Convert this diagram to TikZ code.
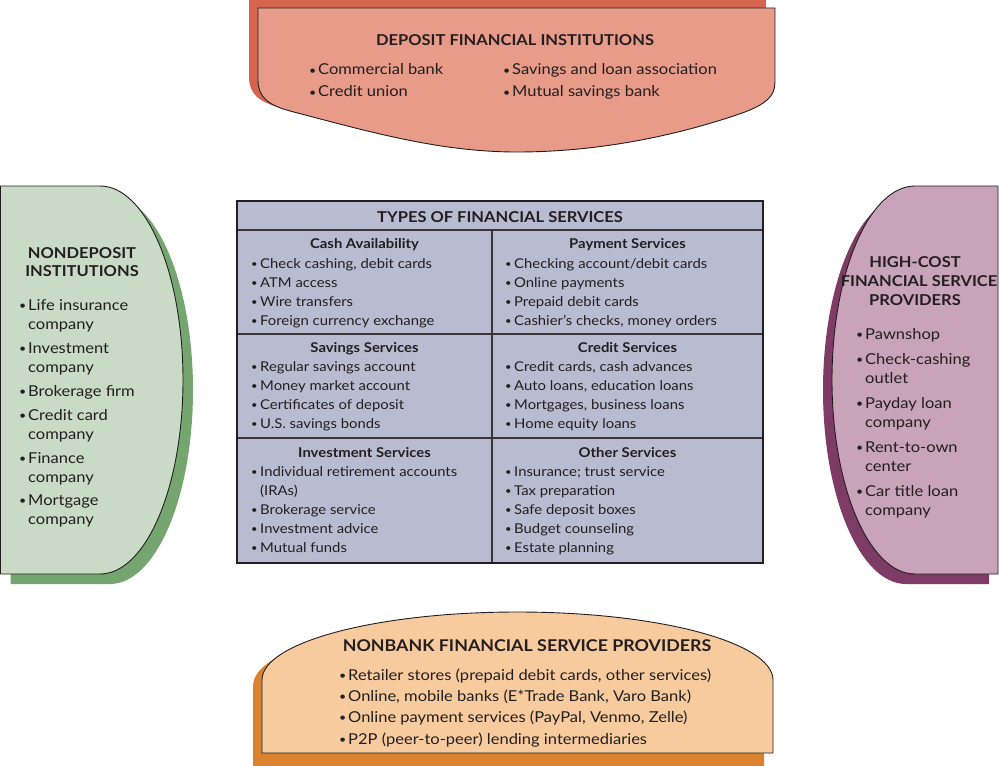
\documentclass[tikz,border=0pt]{standalone}
\usepackage{fontspec}
\setmainfont{Lato}[FakeStretch=1.1]
\definecolor{ink}{HTML}{231F20}
\definecolor{salmon}{HTML}{E79B88}
\definecolor{salmonsh}{HTML}{D5654F}
\definecolor{sage}{HTML}{C9DAC6}
\definecolor{sagesh}{HTML}{76A66F}
\definecolor{mauve}{HTML}{C9A3B9}
\definecolor{mauvesh}{HTML}{7E3B66}
\definecolor{peach}{HTML}{F8CB9F}
\definecolor{peachsh}{HTML}{DA8230}
\definecolor{lav}{HTML}{B9BBD0}
\newcommand\bu{\makebox[9pt][l]{\raisebox{0.1ex}{\scalebox{0.75}{\textbullet}}}}
\newcommand\topshape[1]{\path[#1] (258,8) -- (775,8) -- (775,82) .. controls (775,97) and (765,104) .. (745,112) .. controls (680,135) and (600,152) .. (517,152) .. controls (440,152) and (370,132) .. (290,111) .. controls (268,105) and (258,97) .. (258,80) -- cycle;}
\newcommand\leftshape[1]{\path[#1] (0.5,186) -- (100,186) .. controls (145.8,186) and (183,272.9) .. (183,380) .. controls (183,487.1) and (145.8,574) .. (100,574) -- (0.5,574) -- cycle;}
\newcommand\rightshape[1]{\path[#1] (998,186) -- (915,186) .. controls (869.2,186) and (832,272.9) .. (832,380) .. controls (832,487.1) and (869.2,574) .. (915,574) -- (998,574) -- cycle;}
\newcommand\botshape[2]{\path[#1] (262,#2) -- (262,680) .. controls (262,642.4) and (376.4,612) .. (517.5,612) .. controls (658.6,612) and (773,642.4) .. (773,680) -- (773,#2) -- cycle;}
\begin{document}
\begin{tikzpicture}[x=1pt,y=-1pt,
  outline/.style={draw=ink,line width=0.9pt},
  txt/.style={inner sep=0pt,anchor=base west,text=ink,font=\fontsize{15}{18}\selectfont},
  ttl/.style={inner sep=0pt,anchor=base,text=ink,font=\bfseries\fontsize{15}{18}\selectfont},
  tbl/.style={inner sep=0pt,anchor=base west,text=ink,font=\fontsize{13.5}{16}\selectfont},
  tblh/.style={inner sep=0pt,anchor=base,text=ink,font=\bfseries\fontsize{13.5}{16}\selectfont},
  grid/.style={draw=ink!90,line width=1.4pt}]
\useasboundingbox (0,0) rectangle (1000,765);
% shapes
\fill[salmonsh] (249,0) rectangle (766,60);
\topshape{fill=salmonsh,shift={(-9,-3)}}
\topshape{outline,fill=salmon}
\leftshape{fill=sagesh,shift={(10,10)}}
\leftshape{outline,fill=sage}
\rightshape{fill=mauvesh,shift={(-9,10)}}
\rightshape{outline,fill=mauve}
\botshape{fill=peachsh,shift={(-9,6)}}{760}
\botshape{outline,fill=peach}{753}
% top
\node[ttl] (dtitle) at (515,46) {DEPOSIT FINANCIAL INSTITUTIONS};
\node[txt] (d1) at (309,75) {\bu Commercial bank};
\node[txt] (d2) at (309,97) {\bu Credit union};
\node[txt] (d3) at (503,75) {\bu Savings and loan association};
\node[txt] (d4) at (503,97) {\bu Mutual savings bank};
% left
\node[ttl] (ntitle1) at (82,258) {NONDEPOSIT};
\node[ttl] (ntitle2) at (82,276) {INSTITUTIONS};
\node[txt] (n1) at (19,310) {\bu Life insurance};
\node[txt] (n1b) at (28,329) {company};
\node[txt] (n2) at (19,353) {\bu Investment};
\node[txt] (n2b) at (28,372) {company};
\node[txt] (n3) at (19,396) {\bu Brokerage firm};
\node[txt] (n4) at (19,420) {\bu Credit card};
\node[txt] (n4b) at (28,439) {company};
\node[txt] (n5) at (19,463) {\bu Finance};
\node[txt] (n5b) at (28,482) {company};
\node[txt] (n6) at (19,505) {\bu Mortgage};
\node[txt] (n6b) at (28,524) {company};
% right
\node[ttl] (htitle1) at (915,267) {HIGH-COST};
\node[ttl] (htitle2) at (919,286) {FINANCIAL SERVICE};
\node[ttl] (htitle3) at (915,305) {PROVIDERS};
\node[txt] (h1) at (856,339) {\bu Pawnshop};
\node[txt] (h2) at (856,364) {\bu Check-cashing};
\node[txt] (h2b) at (865,383) {outlet};
\node[txt] (h3) at (856,408) {\bu Payday loan};
\node[txt] (h3b) at (865,427) {company};
\node[txt] (h4) at (856,452) {\bu Rent-to-own};
\node[txt] (h4b) at (865,471) {center};
\node[txt] (h5) at (856,496) {\bu Car title loan};
\node[txt] (h5b) at (865,515) {company};
% bottom
\node[ttl,font=\bfseries\fontsize{16.2}{19}\selectfont] (btitle) at (527,651) {NONBANK FINANCIAL SERVICE PROVIDERS};
\node[txt] (b1) at (339,680) {\bu Retailer stores (prepaid debit cards, other services)};
\node[txt] (b2) at (339,701) {\bu Online, mobile banks (E*Trade Bank, Varo Bank)};
\node[txt] (b3) at (339,722) {\bu Online payment services (PayPal, Venmo, Zelle)};
\node[txt] (b4) at (339,744) {\bu P2P (peer-to-peer) lending intermediaries};
% table
\fill[lav] (237,201) rectangle (763,563);
\draw[grid] (237,230) -- (763,230);
\draw[grid] (237,334) -- (763,334);
\draw[grid] (237,438) -- (763,438);
\draw[grid] (492,230) -- (492,563);
\draw[draw=ink,line width=2.4pt] (237,201) rectangle (763,563);
\node[ttl] (ttitle) at (500,222) {TYPES OF FINANCIAL SERVICES};
\node[tblh] (ca) at (364.5,248) {Cash Availability};
\node[tbl] (ca1) at (251,268) {\bu Check cashing, debit cards};
\node[tbl] (ca2) at (251,287) {\bu ATM access};
\node[tbl] (ca3) at (251,306) {\bu Wire transfers};
\node[tbl] (ca4) at (251,325) {\bu Foreign currency exchange};
\node[tblh] (ss) at (364.5,352) {Savings Services};
\node[tbl] (ss1) at (251,371) {\bu Regular savings account};
\node[tbl] (ss2) at (251,390) {\bu Money market account};
\node[tbl] (ss3) at (251,409) {\bu Certificates of deposit};
\node[tbl] (ss4) at (251,428) {\bu U.S. savings bonds};
\node[tblh] (is) at (364.5,457) {Investment Services};
\node[tbl] (is1) at (251,476) {\bu Individual retirement accounts};
\node[tbl] (is1b) at (260,495) {(IRAs)};
\node[tbl] (is2) at (251,514) {\bu Brokerage service};
\node[tbl] (is3) at (251,533) {\bu Investment advice};
\node[tbl] (is4) at (251,552) {\bu Mutual funds};
\node[tblh] (ps) at (627.5,248) {Payment Services};
\node[tbl] (ps1) at (505,268) {\bu Checking account/debit cards};
\node[tbl] (ps2) at (505,287) {\bu Online payments};
\node[tbl] (ps3) at (505,306) {\bu Prepaid debit cards};
\node[tbl] (ps4) at (505,325) {\bu Cashier's checks, money orders};
\node[tblh] (cs) at (627.5,352) {Credit Services};
\node[tbl] (cs1) at (505,371) {\bu Credit cards, cash advances};
\node[tbl] (cs2) at (505,390) {\bu Auto loans, education loans};
\node[tbl] (cs3) at (505,409) {\bu Mortgages, business loans};
\node[tbl] (cs4) at (505,428) {\bu Home equity loans};
\node[tblh] (os) at (627.5,457) {Other Services};
\node[tbl] (os1) at (505,476) {\bu Insurance; trust service};
\node[tbl] (os2) at (505,495) {\bu Tax preparation};
\node[tbl] (os3) at (505,514) {\bu Safe deposit boxes};
\node[tbl] (os4) at (505,533) {\bu Budget counseling};
\node[tbl] (os5) at (505,552) {\bu Estate planning};
\end{tikzpicture}
\end{document}
